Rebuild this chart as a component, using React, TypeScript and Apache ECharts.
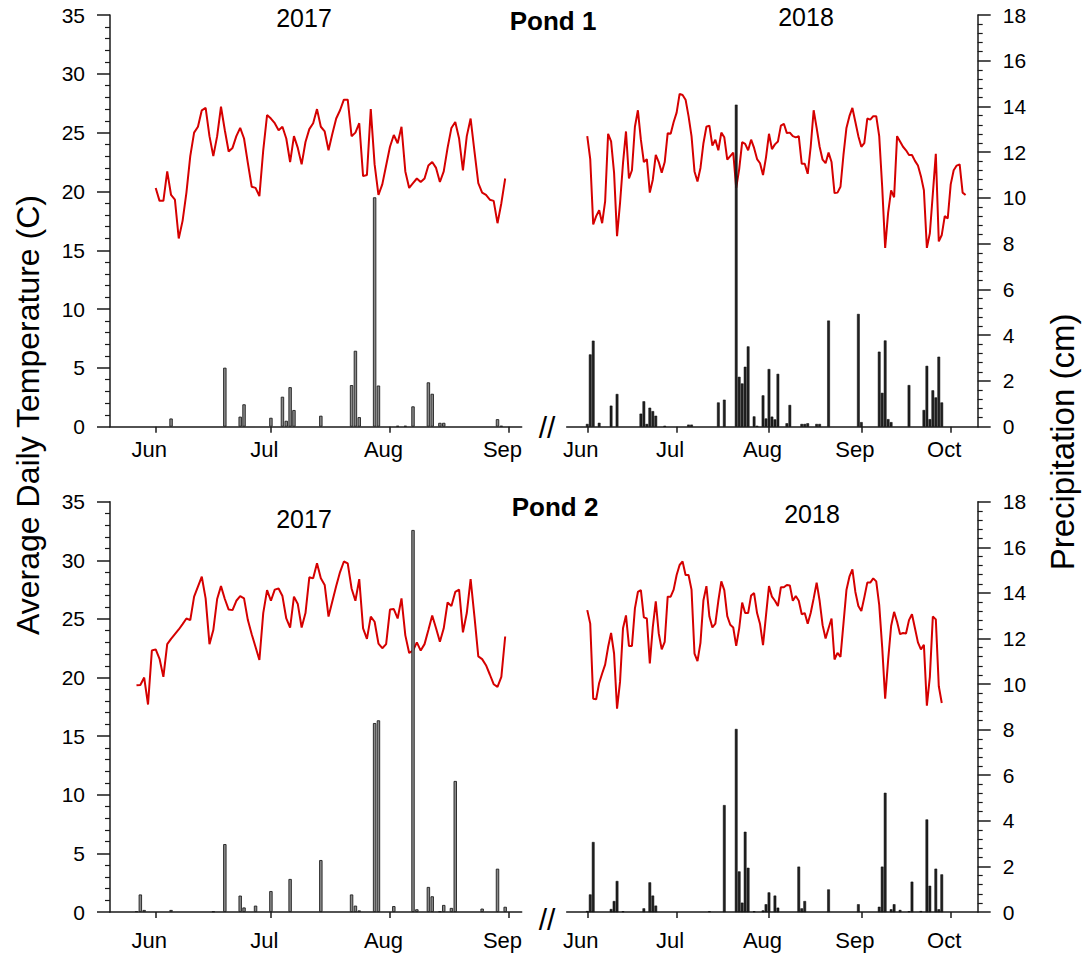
import React, { useEffect, useRef } from "react";
import * as echarts from "echarts";

const FONT = '"Liberation Sans", Arial, Helvetica, sans-serif';

// ---- x axis: day offsets counted from 1 June of each year ----
const monthNames2017 = ["Jun", "Jul", "Aug", "Sep"];
const monthStarts2017 = [0, 30, 61, 92];
const monthNames2018 = ["Jun", "Jul", "Aug", "Sep", "Oct"];
const monthStarts2018 = [0, 30, 61, 92, 122];

// ---- Pond 1, 2017 ----
const pond1Temp2017Start = 0; // 1 June
const pond1Temp2017 = [
  20.3, 19.2, 19.2, 21.7, 19.7, 19.3, 16.0, 17.5, 19.9, 23.0,
  25.0, 25.5, 26.9, 27.1, 24.7, 23.0, 24.7, 27.2, 25.2, 23.4,
  23.7, 24.7, 25.4, 24.5, 22.4, 20.4, 20.3, 19.6, 23.5, 26.5,
  26.2, 25.8, 25.2, 25.5, 24.5, 22.5, 24.7, 23.7, 22.3, 24.2,
  25.3, 25.8, 27.0, 25.5, 25.1, 23.5, 24.9, 26.2, 26.9, 27.8,
  27.8, 24.7, 25.0, 25.8, 21.3, 21.4, 27.0, 22.3, 19.7, 20.6,
  22.2, 23.8, 24.8, 24.1, 25.5, 21.7, 20.3, 20.7, 21.1, 20.8,
  21.1, 22.2, 22.5, 22.0, 20.8, 21.7, 23.7, 25.4, 25.9, 24.5,
  21.8, 24.7, 26.2, 23.4, 20.7, 19.9, 19.7, 19.3, 19.2, 17.3,
  19.0, 21.1,
];
// [day after 1 June, precipitation cm]
const pond1Precip2017 = [
  [4, 0.36], [18, 2.58], [22, 0.44], [23, 0.98], [30, 0.39], [33, 1.31], [34, 0.26],
  [35, 1.73], [36, 0.73], [43, 0.48], [51, 1.82], [52, 3.32], [53, 0.42], [57, 10.03],
  [58, 1.8], [63, 0.04], [65, 0.04], [67, 0.89], [71, 1.94], [72, 1.44], [74, 0.17],
  [75, 0.17], [89, 0.33], [90, 0.04],
];

// ---- Pond 1, 2018 ----
const pond1Temp2018Start = 0;
const pond1Temp2018 = [
  24.7, 22.75, 17.2, 17.9, 18.4, 17.3, 19.15, 24.9, 24.25, 21.6,
  16.2, 19.0, 22.4, 25.1, 21.1, 21.8, 25.5, 26.9, 24.4, 22.5,
  22.75, 19.9, 21.0, 23.1, 22.5, 21.6, 22.5, 24.96, 24.9, 25.9,
  26.7, 28.3, 28.2, 27.8, 26.4, 24.7, 21.7, 20.85, 22.0, 24.1,
  25.5, 25.6, 23.9, 24.4, 23.5, 25.0, 24.6, 22.7, 23.0, 23.3,
  20.3, 21.9, 24.2, 24.05, 23.5, 24.4, 23.7, 22.75, 22.4, 21.4,
  22.9, 24.9, 23.6, 24.0, 24.25, 25.6, 25.75, 24.96, 25.0, 24.7,
  24.6, 24.7, 22.35, 22.35, 21.5, 23.8, 26.9, 25.4, 23.8, 22.7,
  22.4, 23.3, 22.5, 19.86, 19.9, 20.4, 23.1, 25.4, 26.4, 27.1,
  25.9, 24.7, 23.8, 24.1, 26.2, 26.1, 26.4, 26.4, 24.7, 20.4,
  15.2, 18.2, 20.1, 19.5, 24.7, 24.25, 23.8, 23.5, 23.1, 23.1,
  22.6, 22.2, 21.3, 20.1, 15.2, 16.45, 19.8, 23.2, 15.75, 16.3,
  17.9, 17.7, 20.6, 21.8, 22.2, 22.3, 19.9, 19.7,
];
const pond1Precip2018 = [
  [0, 0.12], [1, 3.16], [2, 3.76], [4, 0.17], [8, 0.92], [10, 1.43], [18, 0.57],
  [19, 1.11], [20, 0.12], [21, 0.83], [22, 0.68], [23, 0.48], [26, 0.04], [34, 0.09],
  [35, 0.09], [44, 1.06], [46, 1.18], [50, 14.08], [51, 2.18], [52, 1.89], [53, 2.62],
  [54, 3.51], [56, 0.45], [57, 0.04], [59, 1.37], [60, 0.36], [61, 2.52], [62, 0.44],
  [63, 0.32], [64, 2.31], [67, 0.15], [68, 0.95], [72, 0.12], [73, 0.12], [74, 0.15],
  [77, 0.12], [78, 0.12], [81, 4.64], [91, 4.93], [92, 0.2], [98, 3.28], [99, 1.48],
  [100, 3.77], [101, 0.33], [102, 0.2], [108, 1.82], [113, 0.73], [114, 2.66],
  [115, 0.33], [116, 1.59], [117, 1.28], [118, 3.06], [119, 1.06],
];

// ---- Pond 2, 2017 ----
const pond2Temp2017Start = -5; // 27 May
const pond2Temp2017 = [
  19.34, 19.37, 20.0, 17.7, 22.3,
  22.4, 21.6, 20.06, 22.85, 23.3, 23.7, 24.1, 24.56, 25.04, 24.9,
  26.9, 27.75, 28.6, 26.75, 22.85, 24.05, 26.7, 27.8, 26.7, 25.8,
  25.75, 26.55, 26.95, 26.75, 24.9, 23.7, 22.6, 21.5, 25.5, 27.46,
  26.55, 27.5, 27.6, 26.95, 25.04, 24.25, 26.9, 26.27, 24.27, 25.5,
  28.55, 28.46, 29.74, 28.46, 27.9, 25.2, 26.5, 27.8, 29.0, 29.9,
  29.74, 27.6, 26.55, 28.4, 24.2, 23.3, 25.2, 24.76, 22.9, 22.5,
  22.85, 25.8, 25.84, 25.04, 26.75, 23.6, 22.1, 22.3, 23.0, 22.3,
  22.85, 24.05, 25.3, 24.2, 23.05, 24.2, 26.4, 26.1, 27.3, 27.5,
  23.85, 25.5, 28.4, 25.2, 21.8, 21.57, 21.05, 20.26, 19.43, 19.2,
  20.06, 23.5,
];
const pond2Precip2017 = [
  [-5, 0.04], [-4, 0.77], [-3, 0.09], [4, 0.09], [15, 0.03], [18, 2.98], [22, 0.72],
  [23, 0.2], [26, 0.28], [30, 0.92], [35, 1.45], [43, 2.28], [51, 0.77], [52, 0.28],
  [53, 0.07], [57, 8.29], [58, 8.41], [62, 0.26], [67, 16.76], [68, 0.12], [71, 1.1],
  [72, 0.69], [74, 0.03], [75, 0.31], [77, 0.18], [78, 5.75], [85, 0.15], [89, 1.9],
  [91, 0.23],
];

// ---- Pond 2, 2018 ----
const pond2Temp2018Start = 0;
const pond2Temp2018 = [
  25.75, 24.6, 18.2, 18.15, 19.54, 20.34, 21.1, 22.6, 23.8, 22.05,
  17.35, 19.63, 24.2, 25.3, 22.7, 22.7, 25.9, 27.3, 27.46, 25.13,
  25.04, 21.2, 24.3, 26.5, 23.76, 22.4, 23.05, 26.9, 26.9, 27.5,
  28.75, 29.6, 29.9, 28.75, 28.75, 27.5, 22.05, 21.4, 22.96, 26.6,
  27.8, 25.2, 24.27, 24.6, 26.55, 28.2, 27.46, 25.24, 24.5, 24.27,
  22.7, 24.2, 26.4, 25.5, 25.5, 27.0, 27.2, 25.5, 24.56, 22.76,
  25.3, 27.8, 26.9, 26.55, 26.1, 27.7, 27.7, 27.9, 27.86, 26.55,
  26.95, 26.55, 25.4, 25.5, 24.6, 25.5, 26.75, 28.1, 26.55, 24.47,
  23.33, 24.2, 25.04, 21.54, 22.1, 21.77, 24.6, 27.46, 28.6, 29.23,
  27.3, 26.1, 25.67, 26.84, 28.1, 28.1, 28.46, 28.2, 26.2, 22.6,
  18.2, 21.5, 24.4, 25.6, 24.76, 23.7, 23.8, 23.76, 24.9, 25.4,
  24.2, 23.0, 22.4, 22.8, 17.6, 20.06, 25.2, 24.96, 19.26, 17.83,
];
const pond2Precip2018 = [
  [0, 0.04], [1, 0.77], [2, 3.07], [8, 0.13], [9, 0.48], [10, 1.36], [12, 0.03],
  [19, 0.16], [21, 1.3], [22, 0.72], [23, 0.28], [41, 0.03], [46, 4.69], [50, 8.03],
  [51, 1.78], [52, 0.41], [53, 3.52], [54, 1.94], [56, 0.03], [59, 0.07], [60, 0.34],
  [61, 0.86], [63, 0.72], [64, 0.19], [71, 1.99], [72, 0.16], [73, 0.48], [81, 0.99],
  [91, 0.34], [98, 0.23], [99, 1.99], [100, 5.23], [102, 0.12], [103, 0.34], [105, 0.09],
  [108, 0.03], [109, 1.33], [112, 0.04], [114, 4.06], [115, 1.15], [117, 1.9],
  [118, 0.12], [119, 1.65],
];

const AXIS = "#1a1a1a";

function buildOption() {
  const panels = [
    { grid: { left: 110, top: 15, width: 411.7, height: 411.7 }, min: -11.9, max: 95.3,
      names: monthNames2017, starts: monthStarts2017, temp: pond1Temp2017, tStart: pond1Temp2017Start,
      precip: pond1Precip2017, y2017: true, labelMargin: 12 },
    { grid: { left: 566.7, top: 15, width: 411, height: 411.7 }, min: -6.9, max: 131.06,
      names: monthNames2018, starts: monthStarts2018, temp: pond1Temp2018, tStart: pond1Temp2018Start,
      precip: pond1Precip2018, y2017: false, labelMargin: 12 },
    { grid: { left: 110, top: 501.7, width: 411.7, height: 410.3 }, min: -11.9, max: 95.3,
      names: monthNames2017, starts: monthStarts2017, temp: pond2Temp2017, tStart: pond2Temp2017Start,
      precip: pond2Precip2017, y2017: true, labelMargin: 17 },
    { grid: { left: 566.7, top: 501.7, width: 411, height: 410.3 }, min: -6.9, max: 131.06,
      names: monthNames2018, starts: monthStarts2018, temp: pond2Temp2018, tStart: pond2Temp2018Start,
      precip: pond2Precip2018, y2017: false, labelMargin: 17 },
  ];

  const axisLine = { show: true, onZero: false, lineStyle: { color: AXIS, width: 1.5 } };
  const grids: any[] = [];
  const xAxis: any[] = [];
  const yAxis: any[] = [];
  const series: any[] = [];

  panels.forEach((p, i) => {
    grids.push({ ...p.grid, containLabel: false });
    xAxis.push({
      type: "value",
      gridIndex: i,
      min: p.min,
      max: p.max,
      axisLine,
      axisTick: { show: true, customValues: p.starts, length: 6, inside: false, lineStyle: { color: AXIS, width: 1.5 } },
      axisLabel: {
        show: true,
        customValues: p.starts,
        formatter: (v: number) => {
          let best = 0;
          p.starts.forEach((s, k) => { if (Math.abs(s - v) < Math.abs(p.starts[best] - v)) best = k; });
          return p.names[best];
        },
        fontSize: 22,
        fontFamily: FONT,
        color: "#000",
        margin: p.labelMargin,
        padding: [0, 13, 0, 0],
      },
      splitLine: { show: false },
    });
    const leftShown = i % 2 === 0;
    yAxis.push({
      type: "value",
      gridIndex: i,
      min: 0,
      max: 35,
      interval: 5,
      position: "left",
      show: leftShown,
      axisLine,
      axisTick: { show: true, length: 13, lineStyle: { color: AXIS, width: 1.5 } },
      minorTick: { show: true, splitNumber: 5, length: 5, lineStyle: { color: AXIS, width: 1.2 } },
      axisLabel: { fontSize: 21, fontFamily: FONT, color: "#000", margin: 25 },
      splitLine: { show: false },
      minorSplitLine: { show: false },
    });
    yAxis.push({
      type: "value",
      gridIndex: i,
      min: 0,
      max: 18,
      interval: 2,
      position: "right",
      show: !leftShown,
      axisLine,
      axisTick: { show: true, length: 13, lineStyle: { color: AXIS, width: 1.5 } },
      minorTick: { show: true, splitNumber: 5, length: 5, lineStyle: { color: AXIS, width: 1.2 } },
      axisLabel: { fontSize: 21, fontFamily: FONT, color: "#000", margin: 25 },
      splitLine: { show: false },
      minorSplitLine: { show: false },
    });
    series.push({
      type: "line",
      xAxisIndex: i,
      yAxisIndex: 2 * i,
      data: p.temp.map((t, k) => [p.tStart + k, t]),
      showSymbol: false,
      symbol: "none",
      lineStyle: { color: "#d50000", width: 2 },
      z: 2,
      silent: true,
    });
    series.push({
      type: "bar",
      xAxisIndex: i,
      yAxisIndex: 2 * i + 1,
      data: p.precip,
      barWidth: p.y2017 ? 3.4 : 2.7,
      itemStyle: p.y2017
        ? { color: "#8a8a8a", borderColor: "#1e1e1e", borderWidth: 0.9 }
        : { color: "#222222", borderColor: "#000000", borderWidth: 0.5 },
      z: 3,
      silent: true,
    });
  });

  const txt = (text: string, x: number, y: number, size: number, bold = false, rotation = 0) => ({
    type: "text",
    x,
    y,
    rotation,
    silent: true,
    style: {
      text,
      font: `${bold ? "bold " : ""}${size}px ${FONT}`,
      fill: "#000",
      align: "center",
      verticalAlign: "middle",
      textAlign: "center",
      textVerticalAlign: "middle",
    },
  });

  const graphic = [
    txt("2017", 304, 18, 25),
    txt("2018", 806, 16.5, 25),
    txt("Pond 1", 553, 21, 26, true),
    txt("2017", 304, 519, 25),
    txt("2018", 812, 514, 25),
    txt("Pond 2", 555, 507, 26, true),
    txt("//", 547, 427, 30),
    txt("//", 547, 919, 30),
    txt("Average Daily Temperature (C)", 28, 415, 32, false, Math.PI / 2),
    txt("Precipitation (cm)", 1062, 442, 33, false, Math.PI / 2),
  ];

  return {
    animation: false,
    backgroundColor: "#ffffff",
    grid: grids,
    xAxis,
    yAxis,
    series,
    graphic,
  };
}

export default function App() {
  const ref = useRef<HTMLDivElement>(null);
  useEffect(() => {
    if (!ref.current) return;
    const chart = echarts.init(ref.current, undefined, { renderer: "svg" });
    chart.setOption(buildOption() as any);
    return () => chart.dispose();
  }, []);
  return (
    <div
      ref={ref}
      style={{ position: "absolute", left: 0, top: 0, width: 1084, height: 960, background: "#fff" }}
    />
  );
}
